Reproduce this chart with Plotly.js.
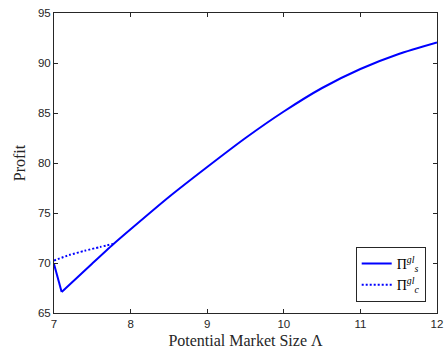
<!DOCTYPE html>
<html>
<head>
<meta charset="utf-8">
<script src="https://cdn.plot.ly/plotly-3.0.1.min.js"></script>
<style>
  html, body { margin: 0; padding: 0; background: #fff; }
  #chart { width: 446px; height: 358px; }
</style>
</head>
<body>
<div id="chart"></div>
<script>
// Potential market size (Λ) and the two profit curves.
// Π_s: a short drop at the start, then a smooth rising curve.
const lambdaSDrop = [7, 7.1];
const profitSDrop = [69.9, 67.1];
const lambdaS = [7.1, 7.5, 7.77, 8, 8.5, 9, 9.5, 10, 10.5, 11, 11.5, 12];
const profitS = [67.1, 69.95, 71.85, 73.37, 76.6, 79.6, 82.5, 85.15, 87.5, 89.4, 90.9, 92.05];

// Π_c: only defined for the small market sizes.
const lambdaC = [7, 7.2, 7.4, 7.6, 7.77];
const profitC = [70.25, 70.8, 71.22, 71.6, 71.9];

const xTicks = [7, 8, 9, 10, 11, 12];
const yTicks = [65, 70, 75, 80, 85, 90, 95];

const nameS = 'Π<sup><i>gl</i></sup><sub><i>s</i></sub>';
const nameC = 'Π<sup><i>gl</i></sup><sub><i>c</i></sub>';

const axisColor = '#262626';
const tickFont = { family: 'Liberation Sans, Arial, sans-serif', size: 11.5, color: axisColor };
const titleFont = { family: 'Liberation Serif, Times New Roman, serif', size: 16, color: axisColor };

const traces = [
  {
    x: lambdaS, y: profitS, name: nameS, type: 'scatter', mode: 'lines',
    legendgroup: 's',
    line: { color: '#0000ff', width: 2, shape: 'spline', smoothing: 0.6 }
  },
  {
    x: lambdaSDrop, y: profitSDrop, name: nameS, type: 'scatter', mode: 'lines',
    legendgroup: 's', showlegend: false,
    line: { color: '#0000ff', width: 2 }
  },
  {
    x: lambdaC, y: profitC, name: nameC, type: 'scatter', mode: 'lines',
    line: { color: '#0000ff', width: 2, dash: '2px,2px', shape: 'spline', smoothing: 0.6 }
  }
];

const layout = {
  width: 446, height: 358,
  margin: { l: 54, r: 9, t: 13, b: 45 },
  paper_bgcolor: '#ffffff',
  plot_bgcolor: '#ffffff',
  showlegend: true,
  legend: {
    x: 0.9705, xanchor: 'right', y: 0.037, yanchor: 'bottom',
    bgcolor: '#ffffff', bordercolor: axisColor, borderwidth: 1,
    font: { family: 'Liberation Serif, Times New Roman, serif', size: 14, color: '#000' },
    tracegroupgap: 0
  },
  xaxis: {
    range: [7, 12], tickvals: xTicks, ticktext: xTicks.map(String),
    showgrid: false, zeroline: false,
    showline: true, linecolor: axisColor, linewidth: 1, mirror: 'ticks',
    ticks: 'inside', ticklen: 4, tickcolor: axisColor,
    tickfont: tickFont,
    title: { text: 'Potential Market Size Λ', font: titleFont, standoff: 6 }
  },
  yaxis: {
    range: [65, 95], tickvals: yTicks, ticktext: yTicks.map(String),
    showgrid: false, zeroline: false,
    showline: true, linecolor: axisColor, linewidth: 1, mirror: 'ticks',
    ticks: 'inside', ticklen: 4, tickcolor: axisColor,
    tickfont: tickFont,
    title: { text: 'Profit', font: titleFont, standoff: 8 }
  }
};

Plotly.newPlot('chart', traces, layout, { staticPlot: true, displayModeBar: false });
</script>
</body>
</html>
